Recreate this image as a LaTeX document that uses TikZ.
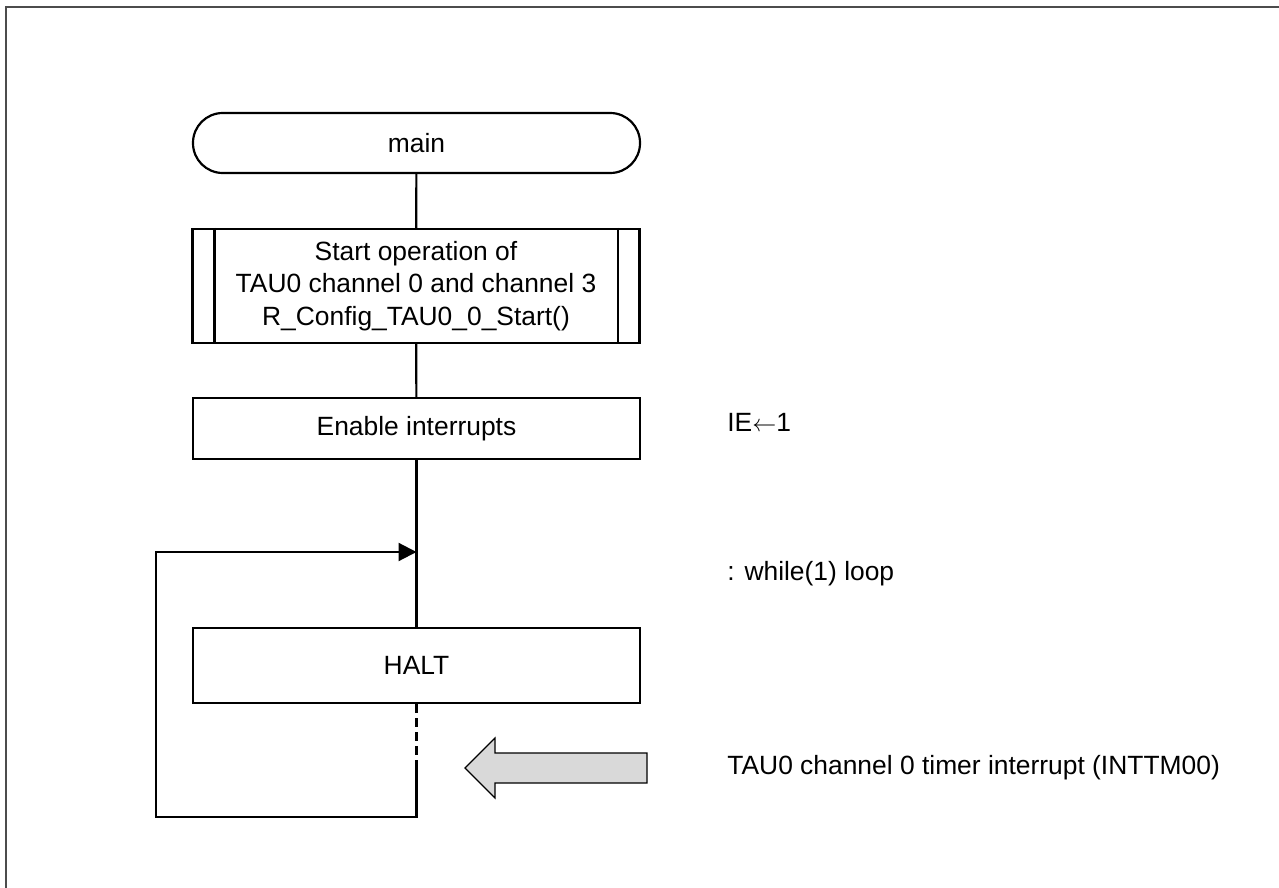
\documentclass[tikz,border=0pt]{standalone}
\usepackage{fontspec}
\setmainfont{Liberation Sans}
\usetikzlibrary{arrows.meta}
\tikzset{
  flow/.style={draw, line width=1.1pt, minimum width=223.5pt, align=center, inner sep=0pt},
  terminal/.style={flow, rounded corners=14.9pt, minimum height=30pt},
  procbox/.style={flow, minimum height=30.5pt},
  subbox/.style={flow, minimum height=57pt},
  note/.style={anchor=west, inner sep=0pt},
  link/.style={line width=1.1pt},
}
\begin{document}
\begin{tikzpicture}[x=0.5pt, y=-0.5pt, font=\fontsize{13.2pt}{16.2pt}\selectfont]
    \useasboundingbox (0,0) rectangle (1279,888);
    \draw[line width=1pt, black!70] (6,888) -- (6,7) -- (1279,7);
    \node[terminal] (main) at (416.5,143) {main};
    \node[subbox] (start) at (416,286) {Start operation of\\TAU0 channel 0 and channel 3\\R\_Config\_TAU0\_0\_Start()};
    \draw[link] ([xshift=11.5pt]start.north west) -- ([xshift=11.5pt]start.south west);
    \draw[link] ([xshift=-11.5pt]start.north east) -- ([xshift=-11.5pt]start.south east);
    \node[procbox] (enable) at (416.5,428.5) {Enable interrupts};
    \node[flow, minimum height=37.5pt] (halt) at (416.5,665.5) {HALT};
    \node[note] (ie) at (727,422) {IE\(\leftarrow\)1};
    \node[note] (loop) at (727,574) {: while(1) loop};
    \node[note] (intr) at (727,768) {TAU0 channel 0 timer interrupt (INTTM00)};
    \coordinate (join) at (416.5,552);
    \coordinate (dashend) at (416.5,760);
    \coordinate (br) at (416.5,817);
    \coordinate (bl) at (156,817);
    \coordinate (tl) at (156,552);
    \draw[link] (main) -- (start);
    \draw[link] (start) -- (enable);
    \draw[link] (enable) -- (halt);
    \draw[link, dash pattern=on 4.5pt off 2.5pt] (halt) -- (dashend);
    \draw[link, -{Triangle[length=9pt,width=9pt]}] (dashend) -- (br) -- (bl) -- (tl) -- (join);
    \draw[fill=black!15, line width=0.6pt] (647,753) -- (495,753) -- (495,738) -- (465,768) -- (495,798) -- (495,783) -- (647,783) -- cycle;
\end{tikzpicture}
\end{document}
